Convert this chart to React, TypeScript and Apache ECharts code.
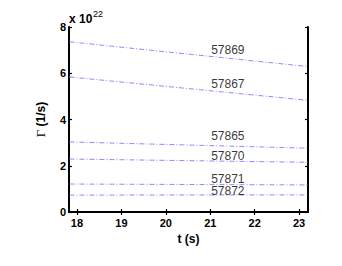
import React, { useEffect, useRef } from "react";
import * as echarts from "echarts";

// Values in units of 1e22 (1/s)
const tStart = 17.83;
const tEnd = 23.2;
const seriesNames = ["57869", "57867", "57865", "57870", "57871", "57872"];
const startValues = [7.36, 5.84, 3.03, 2.29, 1.21, 0.73];
const endValues = [6.29, 4.83, 2.76, 2.15, 1.17, 0.74];
const labelT = 21.02;
const labelValues = [7.01, 5.54, 3.29, 2.42, 1.44, 0.9];
const xTicks = [18, 19, 20, 21, 22, 23];
const yTicks = [0, 2, 4, 6, 8];

export default function App() {
  const ref = useRef<HTMLDivElement>(null);
  useEffect(() => {
    if (!ref.current) return;
    const chart = echarts.init(ref.current, null, { renderer: "svg" });
    const axisLine = { show: true, lineStyle: { color: "#000", width: 2 } };
    const tick = { show: true, inside: true, length: 3, lineStyle: { color: "#000", width: 1.2 } };
    const lineSeries = seriesNames.map((n, i) => ({
      type: "line",
      name: n,
      showSymbol: false,
      symbol: "none",
      data: [
        [tStart, startValues[i]],
        [tEnd, endValues[i]],
      ],
      lineStyle: { color: "#8c8cff", width: 1, type: [5, 2, 1, 2] },
      z: 2,
    }));
    chart.setOption({
      animation: false,
      grid: { left: 69, top: 27, width: 239, height: 185, containLabel: false },
      xAxis: [
        {
          type: "value",
          min: 17.82,
          max: 23.2,
          position: "bottom",
          axisLine,
          axisTick: { ...tick, customValues: xTicks },
          axisLabel: {
            customValues: xTicks,
            color: "#000",
            fontWeight: "bold",
            fontSize: 11,
            fontFamily: "Liberation Sans",
            margin: 5,
          },
          splitLine: { show: false },
          name: "t (s)",
          nameLocation: "middle",
          nameGap: 19,
          nameTextStyle: { color: "#000", fontWeight: "bold", fontSize: 12, fontFamily: "Liberation Sans" },
        },
        {
          type: "value",
          min: 17.82,
          max: 23.2,
          position: "top",
          axisLine,
          axisTick: { ...tick, customValues: xTicks },
          axisLabel: { show: false },
          splitLine: { show: false },
        },
      ],
      yAxis: [
        {
          type: "value",
          min: 0,
          max: 8,
          interval: 2,
          position: "left",
          axisLine,
          axisTick: { ...tick, customValues: yTicks },
          axisLabel: {
            color: "#000",
            fontWeight: "bold",
            fontSize: 11,
            fontFamily: "Liberation Sans",
            margin: 3,
          },
          splitLine: { show: false },
          name: "{g|Γ} {s|(1/s)}",
          nameLocation: "middle",
          nameGap: 22,
          nameRotate: 90,
          nameTextStyle: {
            rich: {
              g: { fontFamily: "Liberation Serif", fontSize: 13, color: "#000" },
              s: { fontFamily: "Liberation Sans", fontWeight: "bold", fontSize: 12, color: "#000" },
            },
          },
        },
        {
          type: "value",
          min: 0,
          max: 8,
          interval: 2,
          position: "right",
          axisLine,
          axisTick: tick,
          axisLabel: { show: false },
          splitLine: { show: false },
        },
      ],
      series: [
        ...lineSeries,
        {
          type: "scatter",
          symbolSize: 0,
          data: seriesNames.map((n, i) => [labelT, labelValues[i], n]),
          label: {
            show: true,
            position: "right",
            distance: 0,
            formatter: (p: any) => p.value[2],
            color: "#000",
            fontSize: 12,
            lineHeight: 11,
            fontFamily: "Liberation Sans",
          },
          z: 3,
        },
      ],
      graphic: [
        {
          type: "text",
          left: 69,
          top: 13,
          style: { text: "x 10", fontSize: 12, fontWeight: "bold", fontFamily: "Liberation Sans", fill: "#000" },
        },
        {
          type: "text",
          left: 93,
          top: 9,
          style: { text: "22", fontSize: 9, fontFamily: "Liberation Sans", fill: "#000" },
        },
      ],
    });
    return () => chart.dispose();
  }, []);
  return <div ref={ref} style={{ width: 342, height: 266, margin: -8 }} />;
}
